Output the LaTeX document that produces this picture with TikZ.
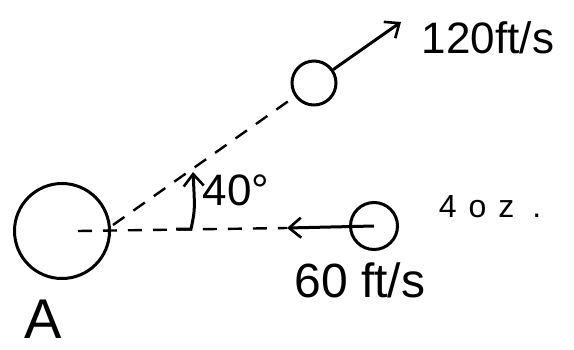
\documentclass[tikz,border=0pt]{standalone}
\usepackage{fontspec}
\setmainfont{Liberation Sans}
\usetikzlibrary{arrows.meta}
\tikzset{
  ball/.style={circle, draw, line width=3pt, inner sep=0pt},
  dashline/.style={line width=2.4pt, dash pattern=on 14pt off 11pt},
  vec/.style={line width=3pt, -{Straight Barb[length=12pt,width=20pt,line width=2.6pt]}},
  lbl/.style={inner sep=0pt, anchor=center}
}
\begin{document}
\begin{tikzpicture}[x=1pt,y=-1pt]
\useasboundingbox (0,0) rectangle (574,349);
% bodies
\node[ball, minimum size=95pt] (A) at (62,231) {};
\node[ball, minimum width=47pt, minimum height=44pt] (B) at (374,226) {};
\node[ball, minimum width=44pt, minimum height=42pt] (C) at (314,83) {};
% reference points
\coordinate (a0) at (78,231);
\coordinate (a1) at (113,225);
\coordinate (tipB) at (287,228);
\coordinate (tipC) at (401,22);
\coordinate (ang0) at (176,229);
\coordinate (ang1) at (193,172);
% dashed paths
\draw[dashline] (a0) -- (tipB);
\draw[dashline] (a1) -- (C);
% velocity vectors
\draw[vec] (B.center) -- (tipB);
\draw[vec] (C.35) -- (tipC);
% angle arrow
\draw[vec] (ang0) -- (191,229) .. controls (195,210) .. (ang1);
% labels
\node[lbl, font=\fontsize{56}{60}\selectfont] (lA) at (43,319) {A};
\node[lbl, font=\fontsize{44}{48}\selectfont] (l40) at (236,190) {40°};
\node[lbl, font=\fontsize{44}{48}\selectfont] (l120) at (488,38) {120ft/s};
\node[lbl, font=\fontsize{32}{36}\selectfont] (loz) at (490,207) {4\hspace{12pt}o\hspace{12pt}z\hspace{18pt}.};
\node[lbl, font=\fontsize{48}{52}\selectfont] (l60) at (360,280) {60 ft/s};
\end{tikzpicture}
\end{document}
